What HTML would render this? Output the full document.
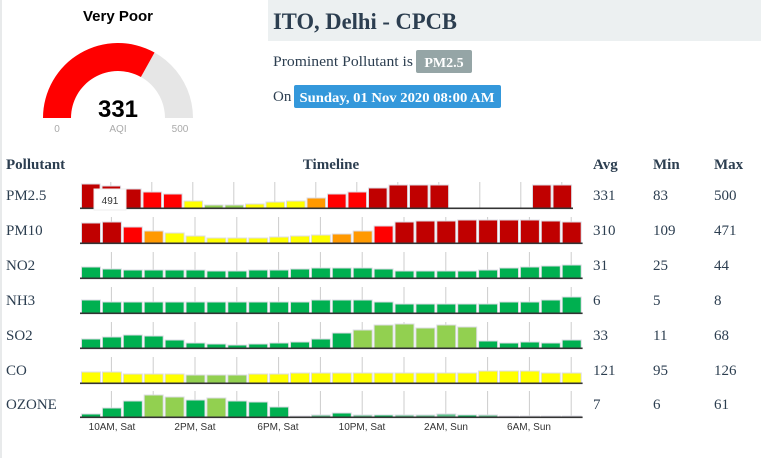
<!DOCTYPE html>
<html><head><meta charset="utf-8">
<style>
html,body{margin:0;padding:0;background:#fff;width:761px;height:458px;overflow:hidden}
svg{display:block}
.s{font-family:"Liberation Serif",serif;fill:#2c3e50}
.a{font-family:"Liberation Sans",sans-serif}
</style></head><body>
<svg id="c" width="761" height="458" xmlns="http://www.w3.org/2000/svg">
<rect x="0" y="0" width="2" height="458" fill="#e8eaeb"/>
<rect x="268" y="0" width="493" height="41" fill="#ecf0f1"/>
<text x="273" y="29" class="s" font-size="23" font-weight="bold" textLength="184" lengthAdjust="spacingAndGlyphs">ITO, Delhi - CPCB</text>
<text x="273" y="66" class="s" font-size="15" textLength="140" lengthAdjust="spacingAndGlyphs">Prominent Pollutant is</text>
<rect x="416" y="50" width="56" height="23" rx="2" fill="#95a5a6"/>
<text x="444" y="67" class="s" font-size="14" font-weight="bold" text-anchor="middle" style="fill:#fff">PM2.5</text>
<text x="273" y="101" class="s" font-size="15">On</text>
<rect x="294" y="85" width="207" height="23" rx="2" fill="#3498db"/>
<text x="397" y="102" class="s" font-size="14" font-weight="bold" text-anchor="middle" style="fill:#fff" textLength="195" lengthAdjust="spacingAndGlyphs">Sunday, 01 Nov 2020 08:00 AM</text>
<text x="118" y="21" class="a" font-size="15" font-weight="bold" text-anchor="middle">Very Poor</text>
<path d="M43 118 A75 75 0 0 1 193 118 L165 118 A47 47 0 0 0 71 118 Z" fill="#e6e6e6"/>
<path id="red" fill="#ff0000"/>
<text x="118" y="117" class="a" font-size="24" font-weight="bold" text-anchor="middle">331</text>
<g class="a" font-size="10" fill="#aaa" text-anchor="middle"><text x="57" y="132">0</text><text x="118" y="132">AQI</text><text x="180" y="132">500</text></g>
<g class="s" font-size="15" font-weight="bold"><text x="6" y="169">Pollutant</text><text x="331" y="169" text-anchor="middle">Timeline</text><text x="593" y="169">Avg</text><text x="653" y="169">Min</text><text x="714" y="169">Max</text></g>
<g id="bars"></g>
<g class="a" font-size="10" fill="#333" text-anchor="middle"><text x="112" y="430">10AM, Sat</text><text x="195" y="430">2PM, Sat</text><text x="278" y="430">6PM, Sat</text><text x="362" y="430">10PM, Sat</text><text x="446" y="430">2AM, Sun</text><text x="529" y="430">6AM, Sun</text></g>
</svg>
<script>
(function(){var a=Math.PI*(1-331/500),cx=118,cy=118,R=75,r=47;
var x1=cx+R*Math.cos(a),y1=cy-R*Math.sin(a),x2=cx+r*Math.cos(a),y2=cy-r*Math.sin(a);
document.getElementById('red').setAttribute('d','M43 118 A75 75 0 0 1 '+x1+' '+y1+' L'+x2+' '+y2+' A47 47 0 0 0 71 118 Z');})();
var C={d:"#c00000",r:"#ff0000",y:"#ffff00",l:"#92d050",o:"#ff9900",g:"#00b050",p:"#5cc08a"};
var rows=[
["PM2.5",208,[24,22,19,16,14,7,3,3,4,6,7,10,14,16,20,23,23,23,0,0,0,0,23,23],"dddrrylllyyyorrdddd----dd".replace("lll","ll"),"331","83","500",20.5],
["PM10",243,[20,21,16,12,10,7,5,5,5,6,7,8,9,12,17,21,22,22,23,23,23,23,22,21],"ddroyyyyyyyyoorddddddddd","310","109","471",20.9],
["NO2",278,[11,9,8,8,8,8,7,7,8,8,9,10,10,10,9,7,7,7,7,8,10,11,12,13],"gggggggggggggggggggggggg","31","25","44",20.9],
["NH3",313,[13,11,11,11,11,11,11,11,11,11,11,13,13,13,11,9,9,9,9,9,11,11,13,16],"gggggggggggggggggggggggg","6","5","8",20.9],
["SO2",348,[9,11,13,12,8,5,4,3,4,5,6,9,15,18,23,24,20,23,21,7,5,6,5,8],"gggggggggggggllllllggggg","33","11","68",20.9],
["CO",383,[11,11,9,9,9,8,8,8,9,9,10,10,10,10,10,10,10,10,10,12,12,12,10,10],"yyyyylllyyyyyyyyyyyyyyyy","121","95","126",20.9],
["OZONE",417,[3,9,16,22,20,17,19,16,15,10,1,2,4,2,2,2,2,3,2,2,1,1,1,1],"gggllglgggppgpgpppgppppp","7","6","61",20.9]];
var g=document.getElementById('bars'),h="";
rows.forEach(function(R){var b=R[1],P=R[7],bw=P-1.9;
h+='<text x="6" y="'+(b-8)+'" class="s" font-size="15">'+R[0]+'</text>';
h+='<text x="593" y="'+(b-8)+'" class="s" font-size="15">'+R[4]+'</text><text x="653" y="'+(b-8)+'" class="s" font-size="15">'+R[5]+'</text><text x="714" y="'+(b-8)+'" class="s" font-size="15">'+R[6]+'</text>';
for(var k=0;k<12;k++){var tx=81+P*(2*k+1)+bw/2;h+='<line x1="'+tx+'" x2="'+tx+'" y1="'+(b-26)+'" y2="'+b+'" stroke="#ccc" stroke-width="1"/>';}
for(var i=0;i<24;i++){var v=R[2][i],c=R[3][i];if(c=="-"||v<=0)continue;var x=81+P*i;
h+='<rect x="'+(x+0.5)+'" y="'+(b-v)+'" width="'+bw+'" height="'+v+'" fill="'+C[c]+'" stroke="#dcdce4" stroke-width="1"/>';}
h+='<rect x="80" y="'+(b-0.5)+'" width="'+(24*P+1)+'" height="1.6" fill="#333"/>';});
h+='<rect x="94" y="189" width="32" height="21" fill="#fff" stroke="#eee"/><text x="110" y="204" class="a" font-size="10" text-anchor="middle" fill="#333">491</text>';
g.innerHTML=h;
</script>
</body></html>
